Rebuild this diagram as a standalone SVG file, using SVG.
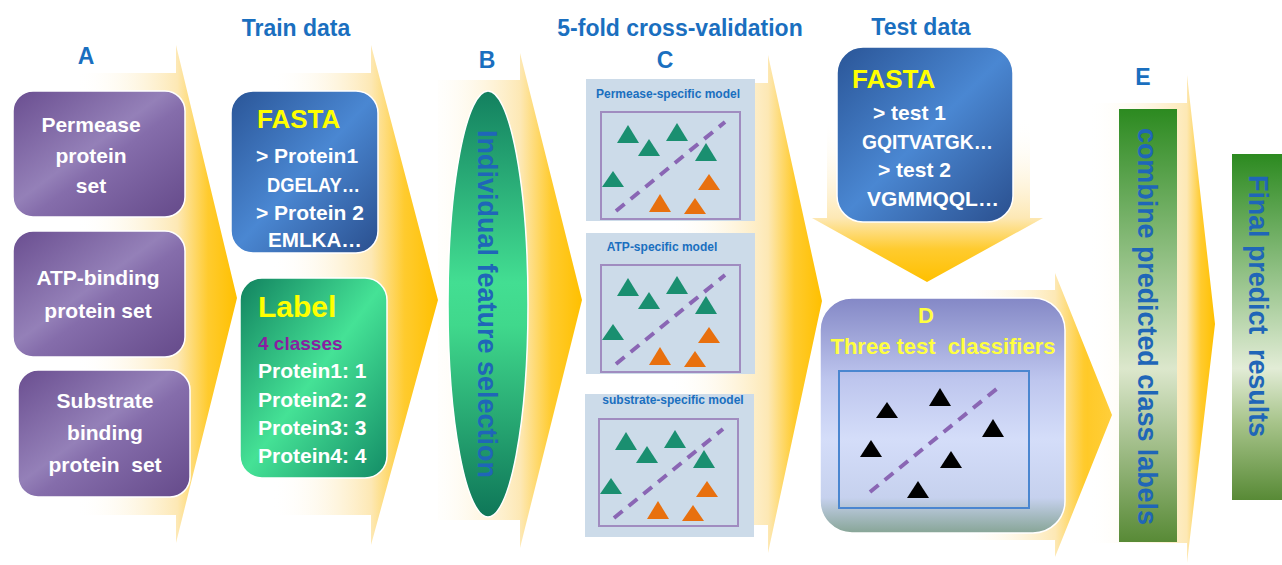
<svg xmlns="http://www.w3.org/2000/svg" xmlns:xlink="http://www.w3.org/1999/xlink" width="1282" height="565" viewBox="0 0 1282 565">
<style>
.t{font-family:"Liberation Sans",Arial,sans-serif;font-weight:bold}
.hd{fill:#1a6fbf;font-size:23px}
.wt{fill:#ffffff;font-size:21px}
.yl{fill:#ffff00}
.pt{fill:#1a6fbf;font-size:12px}
.vt{fill:#1f66b8;font-size:27px}
.pre{white-space:pre}
.box{stroke:#ffffff;stroke-width:1.5}
</style>
<defs>
<linearGradient id="gA" gradientUnits="userSpaceOnUse" x1="76" y1="0" x2="237" y2="0"><stop offset="0" stop-color="#ffffff" stop-opacity="0"/><stop offset="0.63" stop-color="#fde8b4"/><stop offset="0.82" stop-color="#ffcb2e"/><stop offset="1" stop-color="#ffc000"/></linearGradient>
<linearGradient id="gT" gradientUnits="userSpaceOnUse" x1="271" y1="0" x2="438" y2="0"><stop offset="0" stop-color="#ffffff" stop-opacity="0"/><stop offset="0.6" stop-color="#fde8b4"/><stop offset="0.8" stop-color="#ffcb2e"/><stop offset="1" stop-color="#ffc000"/></linearGradient>
<linearGradient id="gB" gradientUnits="userSpaceOnUse" x1="420" y1="0" x2="582" y2="0"><stop offset="0" stop-color="#ffffff" stop-opacity="0"/><stop offset="0.62" stop-color="#fde8b4"/><stop offset="0.81" stop-color="#ffcb2e"/><stop offset="1" stop-color="#ffc000"/></linearGradient>
<linearGradient id="gC" gradientUnits="userSpaceOnUse" x1="668" y1="0" x2="822" y2="0"><stop offset="0" stop-color="#ffffff" stop-opacity="0"/><stop offset="0.65" stop-color="#fde8b4"/><stop offset="0.82" stop-color="#ffcb2e"/><stop offset="1" stop-color="#ffc000"/></linearGradient>
<linearGradient id="gD" gradientUnits="userSpaceOnUse" x1="955" y1="0" x2="1112" y2="0"><stop offset="0" stop-color="#ffffff" stop-opacity="0"/><stop offset="0.64" stop-color="#fde8b4"/><stop offset="0.82" stop-color="#ffcb2e"/><stop offset="1" stop-color="#ffc000"/></linearGradient>
<linearGradient id="gE" gradientUnits="userSpaceOnUse" x1="1087" y1="0" x2="1215" y2="0"><stop offset="0" stop-color="#ffffff" stop-opacity="0"/><stop offset="0.78" stop-color="#fde8b4"/><stop offset="0.89" stop-color="#ffcb2e"/><stop offset="1" stop-color="#ffc000"/></linearGradient>
<linearGradient id="gDown" gradientUnits="userSpaceOnUse" x1="0" y1="118" x2="0" y2="282"><stop offset="0" stop-color="#ffffff" stop-opacity="0"/><stop offset="0.61" stop-color="#fde8b4"/><stop offset="0.8" stop-color="#ffcb2e"/><stop offset="1" stop-color="#ffc000"/></linearGradient>
<linearGradient id="gPurple" x1="0" y1="0" x2="1" y2="1"><stop offset="0" stop-color="#6a4e90"/><stop offset="0.45" stop-color="#9480b8"/><stop offset="0.55" stop-color="#856dab"/><stop offset="1" stop-color="#654a8a"/></linearGradient>
<linearGradient id="gBlue" x1="0" y1="0" x2="1" y2="1"><stop offset="0" stop-color="#2a5597"/><stop offset="0.5" stop-color="#4a87d2"/><stop offset="1" stop-color="#2a4f8e"/></linearGradient>
<linearGradient id="gGreen" x1="0" y1="0" x2="1" y2="1"><stop offset="0" stop-color="#11825f"/><stop offset="0.5" stop-color="#45e296"/><stop offset="1" stop-color="#138c66"/></linearGradient>
<linearGradient id="gEll" x1="0" y1="0" x2="0" y2="1"><stop offset="0" stop-color="#13805f"/><stop offset="0.45" stop-color="#43de92"/><stop offset="0.55" stop-color="#40d88c"/><stop offset="1" stop-color="#0e7658"/></linearGradient>
<linearGradient id="gDbox" x1="0" y1="0" x2="0" y2="1"><stop offset="0" stop-color="#8488c6"/><stop offset="0.35" stop-color="#bec6ee"/><stop offset="0.6" stop-color="#d4ddf9"/><stop offset="0.85" stop-color="#c6d1ee"/><stop offset="1" stop-color="#87a596"/></linearGradient>
<linearGradient id="gBar" x1="0" y1="0" x2="0" y2="1"><stop offset="0" stop-color="#2c8a20"/><stop offset="0.6" stop-color="#dce7cc"/><stop offset="1" stop-color="#588a36"/></linearGradient>
<linearGradient id="gBar2" x1="0" y1="0" x2="0" y2="1"><stop offset="0" stop-color="#2c8a20"/><stop offset="0.62" stop-color="#e2ecd6"/><stop offset="0.78" stop-color="#a6c389"/><stop offset="1" stop-color="#588a36"/></linearGradient>
<g id="plot">
<rect x="601" y="112" width="139" height="107" fill="none" stroke="#a08cc0" stroke-width="2"/>
<g fill="#1a8f70">
<polygon points="628,125 639,143 617,143"/>
<polygon points="677,123 688,141 666,141"/>
<polygon points="649,139 660,156 638,156"/>
<polygon points="706,143 717,161 695,161"/>
<polygon points="613,171 624,187 602,187"/>
</g>
<g fill="#e8700e">
<polygon points="709,174 720,190 698,190"/>
<polygon points="660,194 671,212 649,212"/>
<polygon points="695,198 706,214 684,214"/>
</g>
<line x1="616" y1="211" x2="725" y2="122" stroke="#8a66b4" stroke-width="4" stroke-dasharray="11,8"/>
</g>
</defs>

<g id="connectors">
<polygon fill="url(#gA)" points="0,73 176,73 176,45 237,298 176,543 176,515 0,515"/>
<polygon fill="url(#gT)" points="228,73 371,73 371,45 438,300 371,545 371,515 228,515"/>
<polygon fill="url(#gB)" points="438,80 520,80 520,53 582,300 520,548 520,520 438,520"/>
<polygon fill="url(#gC)" points="580,83 768,83 768,55 822,301 768,553 768,525 580,525"/>
<polygon fill="url(#gDown)" points="827,40 1030,40 1030,218 1043,218 927,282 812,218 827,218"/>
<polygon fill="url(#gD)" points="830,290 1055,290 1055,273 1112,415 1055,557 1055,540 830,540"/>
<polygon fill="url(#gE)" points="1088,103 1187,103 1187,75 1215,324 1187,563 1187,543 1088,543"/>
</g>

<g id="labels">
<text class="t hd" x="86" y="64" text-anchor="middle" font-size="26">A</text>
<text class="t hd" x="296" y="36" text-anchor="middle">Train data</text>
<text class="t hd" x="487" y="68" text-anchor="middle" font-size="26">B</text>
<text class="t hd" x="680" y="36" text-anchor="middle">5-fold cross-validation</text>
<text class="t hd" x="665" y="68" text-anchor="middle" font-size="26">C</text>
<text class="t hd" x="921" y="35" text-anchor="middle">Test data</text>
<text class="t hd" x="1143" y="85" text-anchor="middle" font-size="26">E</text>
</g>

<g id="permease">
<rect class="box" x="13" y="91" width="172" height="126" rx="20" fill="url(#gPurple)"/>
<text class="t wt" text-anchor="middle" font-size="22"><tspan x="91" y="132">Permease</tspan><tspan x="91" y="163">protein</tspan><tspan x="91" y="193">set</tspan></text>
</g>
<g id="atp">
<rect class="box" x="13" y="231" width="172" height="126" rx="20" fill="url(#gPurple)"/>
<text class="t wt" text-anchor="middle" font-size="22"><tspan x="98" y="285">ATP-binding</tspan><tspan x="98" y="318">protein set</tspan></text>
</g>
<g id="substrate">
<rect class="box" x="18" y="370" width="172" height="127" rx="20" fill="url(#gPurple)"/>
<text class="t wt pre" text-anchor="middle" font-size="22"><tspan x="105" y="408">Substrate</tspan><tspan x="105" y="440">binding</tspan><tspan x="105" y="472">protein  set</tspan></text>
</g>

<g id="trainFasta">
<rect class="box" x="231" y="91" width="147" height="162" rx="22" fill="url(#gBlue)"/>
<text class="t yl" x="257" y="128" font-size="26">FASTA</text>
<text class="t wt" x="256" y="163">&gt; Protein1</text>
<text class="t wt" x="267" y="192" textLength="93" lengthAdjust="spacingAndGlyphs">DGELAY…</text>
<text class="t wt" x="256" y="220">&gt; Protein 2</text>
<text class="t wt" x="268" y="247" textLength="94" lengthAdjust="spacingAndGlyphs">EMLKA…</text>
</g>

<g id="trainLabel">
<rect class="box" x="240" y="278" width="147" height="200" rx="22" fill="url(#gGreen)"/>
<text class="t yl" x="258" y="317" font-size="30">Label</text>
<text class="t" x="258" y="350" font-size="19" fill="#8a1fa0">4 classes</text>
<text class="t wt"><tspan x="258" y="378">Protein1: 1</tspan><tspan x="258" y="407">Protein2: 2</tspan><tspan x="258" y="435">Protein3: 3</tspan><tspan x="258" y="463">Protein4: 4</tspan></text>
</g>

<g id="featureSelection">
<ellipse cx="488" cy="304" rx="40" ry="213" fill="url(#gEll)" stroke="#ffffff" stroke-width="1.5"/>
<text class="t vt" transform="translate(478,130) rotate(90)" font-size="27.5" fill="#1f5fae">Individual feature selection</text>
</g>

<g id="permeaseModel">
<rect x="586" y="79" width="169" height="142" fill="#ccdbe9"/>
<text class="t pt" x="668" y="98" text-anchor="middle">Permease-specific model</text>
<use xlink:href="#plot"/>
</g>
<g id="atpModel">
<rect x="586" y="233" width="169" height="141" fill="#ccdbe9"/>
<text class="t pt" x="662" y="251" text-anchor="middle">ATP-specific model</text>
<use xlink:href="#plot" transform="translate(0,153)"/>
</g>
<g id="substrateModel">
<rect x="585" y="394" width="169" height="143" fill="#ccdbe9"/>
<text class="t pt" x="673" y="404" text-anchor="middle">substrate-specific model</text>
<use xlink:href="#plot" transform="translate(-2,307)"/>
</g>

<g id="testFasta">
<rect class="box" x="837" y="47" width="176" height="175" rx="26" fill="url(#gBlue)"/>
<text class="t yl" x="852" y="88" font-size="26">FASTA</text>
<text class="t wt" x="873" y="120">&gt; test 1</text>
<text class="t wt" x="862" y="149" textLength="131" lengthAdjust="spacingAndGlyphs">GQITVATGK…</text>
<text class="t wt" x="878" y="177">&gt; test 2</text>
<text class="t wt" x="867" y="206" textLength="132" lengthAdjust="spacingAndGlyphs">VGMMQQL…</text>
</g>

<g id="testClassifiers">
<rect class="box" x="820" y="298" width="245" height="235" rx="32" fill="url(#gDbox)"/>
<text class="t" x="926" y="323" text-anchor="middle" font-size="22" fill="#ffff40">D</text>
<text class="t pre" x="943" y="354" text-anchor="middle" font-size="22" fill="#ffff40">Three test  classifiers</text>
<rect x="839" y="371" width="190" height="137" fill="none" stroke="#4a86d0" stroke-width="2"/>
<g fill="#000000">
<polygon points="887,402 898,418 876,418"/>
<polygon points="940,388 951,406 929,406"/>
<polygon points="993,419 1004,437 982,437"/>
<polygon points="871,440 882,457 860,457"/>
<polygon points="951,451 962,468 940,468"/>
<polygon points="918,481 929,498 907,498"/>
</g>
<line x1="870" y1="492" x2="999" y2="387" stroke="#8a66b4" stroke-width="4" stroke-dasharray="11,8"/>
</g>

<g id="combine">
<rect x="1119" y="109" width="58" height="433" fill="url(#gBar)"/>
<text class="t vt" transform="translate(1138,128) rotate(90)" font-size="26" textLength="397" lengthAdjust="spacing">combine predicted class labels</text>
</g>

<g id="final">
<rect x="1232" y="154" width="50" height="346" fill="url(#gBar2)"/>
<text class="t vt pre" transform="translate(1249,175) rotate(90)" font-size="23" textLength="262" lengthAdjust="spacing">Final predict  results</text>
</g>
</svg>
